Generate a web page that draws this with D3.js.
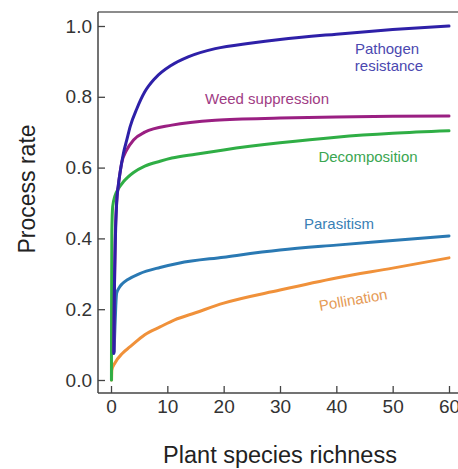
<!DOCTYPE html>
<html><head><meta charset="utf-8">
<script src="https://cdn.jsdelivr.net/npm/d3@7"></script>
<style>body{margin:0;background:#fff}svg{display:block}text{font-family:Arial,"Liberation Sans",sans-serif}</style>
</head><body>
<script>
const xTicks = [0,10,20,30,40,50,60];
const yTicks = [0,0.2,0.4,0.6,0.8,1.0];
const pathogen = [[0.5,0.075],[0.6,0.25],[0.75,0.38],[1.0,0.5],[1.3,0.55],[1.6,0.585],[2.2,0.64],[2.8,0.678],[3.4,0.716],[4.6,0.767],[6,0.814],[7.8,0.852],[10.8,0.89],[13.7,0.913],[18.5,0.936],[25,0.952],[30,0.962],[40,0.977],[50,0.99],[60,1.0]];
const weed = [[0.5,0.08],[0.6,0.25],[0.75,0.4],[1.0,0.5],[1.3,0.55],[1.6,0.585],[1.9,0.613],[2.8,0.65],[4,0.678],[6,0.7],[10.8,0.72],[18.5,0.734],[30,0.74],[40,0.743],[50,0.745],[60,0.746]];
const decomposition = [[0.08,0.0],[0.1,0.2],[0.15,0.42],[0.3,0.49],[0.7,0.52],[1.3,0.54],[2.2,0.56],[3,0.573],[4,0.586],[6,0.604],[8.7,0.618],[10.8,0.627],[15,0.638],[20,0.65],[30,0.67],[40,0.686],[50,0.697],[60,0.704]];
const parasitism = [[0.55,0.08],[0.7,0.15],[0.85,0.21],[1.0,0.245],[1.5,0.262],[2,0.272],[3,0.284],[5,0.3],[8.7,0.318],[12,0.33],[20,0.347],[30,0.367],[40,0.381],[50,0.394],[60,0.407]];
const pollination = [[0.1,0.0],[0.15,0.028],[0.7,0.048],[2,0.075],[3.4,0.094],[6,0.128],[8.7,0.15],[11.3,0.17],[15,0.19],[20,0.217],[30,0.254],[40,0.288],[50,0.316],[60,0.345]];
const seriesNames = ["Pathogen resistance","Weed suppression","Decomposition","Parasitism","Pollination"];

const W=458,H=469;
const svg=d3.select("body").append("svg").attr("width",W).attr("height",H);
const x=d3.scaleLinear().domain([0,60]).range([111,449]);
const y=d3.scaleLinear().domain([0,1]).range([380,26]);
const axL=98, axB=393, axT=12;
const axisCol="#444";

// frame
svg.append("line").attr("x1",axL).attr("x2",W).attr("y1",axT).attr("y2",axT).attr("stroke","#666").attr("stroke-width",1.5);
svg.append("line").attr("x1",axL).attr("x2",axL).attr("y1",axT).attr("y2",axB).attr("stroke",axisCol).attr("stroke-width",1.5);
svg.append("line").attr("x1",axL).attr("x2",W).attr("y1",axB).attr("y2",axB).attr("stroke",axisCol).attr("stroke-width",1.5);

// y axis
const ya=svg.append("g").attr("transform",`translate(${axL},0)`)
  .call(d3.axisRight(y).tickValues(yTicks).tickFormat(d3.format(".1f")).tickSize(7));
ya.select(".domain").remove();
ya.selectAll("line").attr("stroke",axisCol).attr("stroke-width",1.3);
ya.selectAll("text").attr("text-anchor","end").attr("x",-6).attr("font-size",19).attr("fill","#333");

// x axis
const xa=svg.append("g").attr("transform",`translate(0,${axB})`)
  .call(d3.axisTop(x).tickValues(xTicks).tickSize(7));
xa.select(".domain").remove();
xa.selectAll("line").attr("stroke",axisCol).attr("stroke-width",1.3);
xa.selectAll("text").attr("y",20).attr("dy",0).attr("font-size",19).attr("fill","#333");

// axis titles
svg.append("text").attr("x",280).attr("y",463).attr("text-anchor","middle").attr("font-size",23.5).attr("fill","#222").text("Plant species richness");
svg.append("text").attr("transform","translate(35,189) rotate(-90)").attr("text-anchor","middle").attr("font-size",23).attr("fill","#222").text("Process rate");

const line=d3.line().x(d=>x(d[0])).y(d=>y(d[1])).curve(d3.curveMonotoneX);
const data=[
  {v:pollination,c:"#f0913a"},
  {v:parasitism,c:"#2a79b3"},
  {v:decomposition,c:"#2fae45"},
  {v:weed,c:"#9a1f82"},
  {v:pathogen,c:"#2e20a8"}
];
data.forEach(s=>svg.append("path").attr("d",line(s.v)).attr("fill","none").attr("stroke",s.c).attr("stroke-width",3).attr("stroke-linecap","round"));

const lab=(t,px,py,c,rot)=>svg.append("text").attr("transform",`translate(${px},${py}) rotate(${rot||0})`).attr("text-anchor","middle").attr("font-size",15).attr("fill",c).text(t);
lab("Pathogen",387,54,"#4b48b0");
lab("resistance",389,71,"#4b48b0");
lab("Weed suppression",267,104,"#a03c84");
lab("Decomposition",368,162,"#3aa651");
lab("Parasitism",339,229,"#3a7fb5");
lab("Pollination",354,305,"#e59a55",-10);
</script>
</body></html>
